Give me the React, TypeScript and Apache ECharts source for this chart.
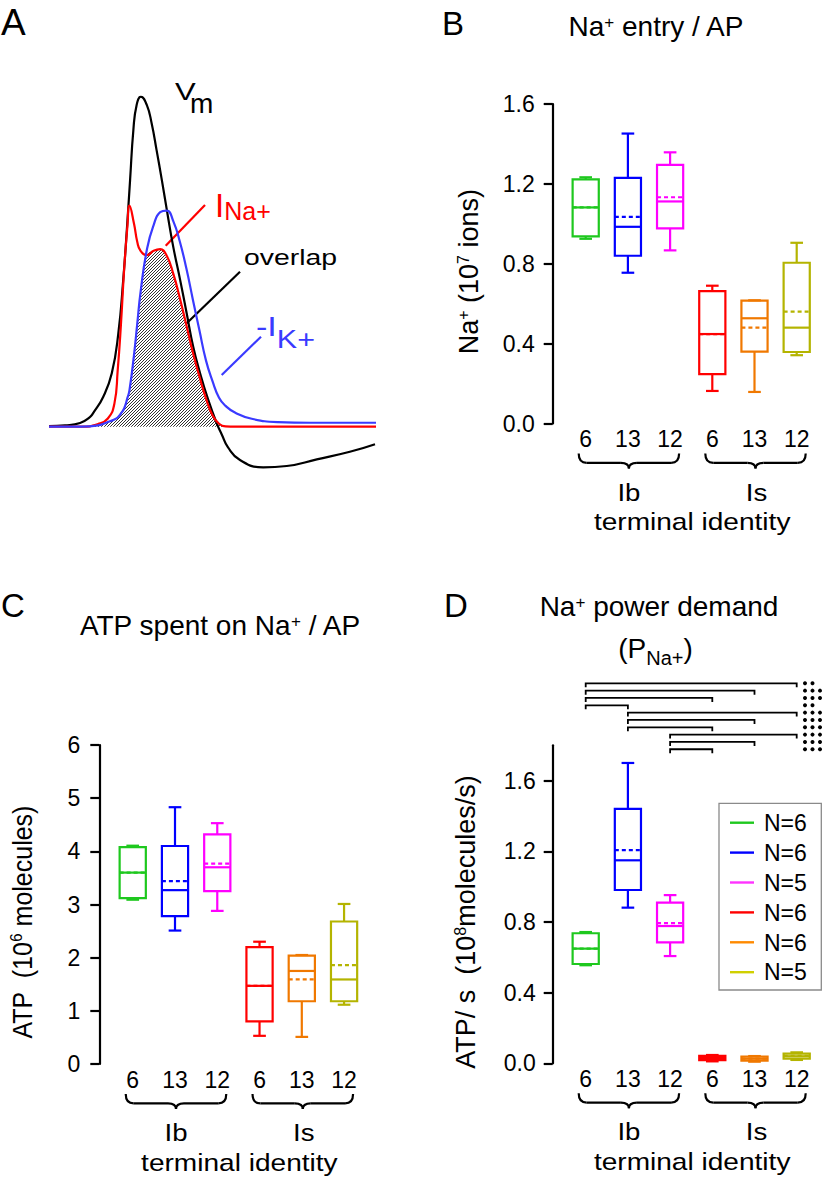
import React, { useEffect, useRef } from 'react';
import * as echarts from 'echarts';

const FONT = '"Liberation Sans", Arial, Helvetica, sans-serif';

// ---------- Panel A traces (time 0-100 a.u., amplitude a.u. with Vm peak = 100) ----------
const vmTime = [0, 4.9, 9.5, 12.5, 13.5, 16.6, 19.2, 21.2, 22.7, 23.8, 24.8, 25.8, 26.8, 28.1, 29.9, 31.4, 32.9, 34.5, 36.2, 38.0, 40.1, 42.1, 44.1, 46.2, 48.7, 51.3, 52.9, 54.7, 58.4, 65.5, 72.7, 81.9, 92.0, 99.7];
const vmTrace = [0.2, 0.4, 1.1, 2.9, 4.1, 9.1, 16.2, 28.3, 44.5, 59.6, 74.8, 89.9, 97.5, 100, 97.5, 91.9, 83.8, 74.8, 64.7, 54.5, 44.5, 34.4, 24.2, 16.2, 8.1, 1.0, -2.5, -6.2, -10.1, -12.3, -11.9, -9.9, -7.6, -5.3];
const currentTime = [0, 10, 15, 18, 20, 21, 22, 23, 24, 24.6, 26, 27, 28, 30, 32, 34, 36, 38, 40, 42, 44, 46, 48, 50, 52, 54, 57, 62, 70, 80, 100];
const iNaTrace = [0, 0, 0.8, 2.5, 7, 17, 31, 48, 61, 67, 61.5, 56, 53.3, 52, 53.3, 53.8, 51.8, 46.4, 39, 30.8, 22.5, 15.2, 8.6, 3.5, 0.9, 0.1, 0, 0, 0, 0, 0];
const iKTrace = [0, 0, 0.4, 1.4, 2.2, 2.8, 4, 5.6, 8.8, 11, 21.8, 31.3, 40.8, 54, 61.1, 65, 65.5, 62.3, 56.1, 48, 38.5, 29.2, 20.1, 13.8, 8.8, 6.3, 4.2, 2.4, 1.4, 1.2, 1.2];

// ---------- Box plots ----------
const categories = ['6', '13', '12', '6', '13', '12'];
const groupColors = ['#1ec81e', '#0000ff', '#ff00ff', '#ff0000', '#f07800', '#b4b400'];
// [min, q1, median, q3, max, mean]
const naEntry = [
  [0.925, 0.937, 1.082, 1.223, 1.233, 1.082],
  [0.755, 0.84, 0.985, 1.23, 1.452, 1.035],
  [0.867, 0.977, 1.112, 1.295, 1.358, 1.133],
  [0.163, 0.247, 0.448, 0.663, 0.69, 0.448],
  [0.158, 0.36, 0.527, 0.615, 0.617, 0.48],
  [0.342, 0.358, 0.48, 0.805, 0.905, 0.56],
];
const atpPerAP = [
  [3.09, 3.12, 3.6, 4.08, 4.106, 3.6],
  [2.51, 2.78, 3.27, 4.1, 4.83, 3.44],
  [2.88, 3.25, 3.7, 4.32, 4.53, 3.77],
  [0.53, 0.8, 1.47, 2.2, 2.3, 1.47],
  [0.51, 1.18, 1.75, 2.04, 2.05, 1.59],
  [1.115, 1.18, 1.59, 2.68, 3.01, 1.86],
];
const powerDemand = [
  [0.555, 0.562, 0.649, 0.736, 0.743, 0.649],
  [0.881, 0.981, 1.149, 1.44, 1.7, 1.207],
  [0.607, 0.685, 0.777, 0.909, 0.952, 0.794],
  [0.011, 0.018, 0.03, 0.042, 0.047, 0.03],
  [0.009, 0.015, 0.026, 0.038, 0.041, 0.026],
  [0.019, 0.026, 0.04, 0.055, 0.062, 0.042],
];
const legendN = [6, 6, 5, 6, 6, 5];
const legendColors = ['#1ec81e', '#0000ff', '#ff33ff', '#ff0000', '#ff8a00', '#d0d000'];
// significance comparisons in D: [group a, group b, number of dots]
const sigPairs = [
  [0, 5, 2], [0, 4, 3], [0, 3, 3], [0, 1, 2],
  [1, 5, 3], [1, 4, 3], [1, 3, 3],
  [2, 5, 3], [2, 4, 3], [2, 3, 3],
];
const powerTicks = [0, 0.4, 0.8, 1.2, 1.6];

type Part = { t: string; s: number; dy?: number };

export default function App() {
  const ref = useRef<HTMLDivElement>(null);
  useEffect(() => {
    const el = ref.current!;
    const chart = echarts.init(el, null, { renderer: 'svg' });

    const mctx = document.createElement('canvas').getContext('2d')!;
    const tw = (t: string, s: number) => {
      mctx.font = `${s}px ${FONT}`;
      return mctx.measureText(t).width;
    };
    const label = (
      parts: Part[], x: number, baseline: number,
      o: { align?: string; color?: string; scaleX?: number; scaleY?: number; rotation?: number } = {}
    ) => {
      const w = parts.reduce((a, p) => a + tw(p.t, p.s), 0);
      let px = o.align === 'center' ? -w / 2 : o.align === 'right' ? -w : 0;
      const children = parts.map((p) => {
        const e = {
          type: 'text', x: px, y: (p.dy || 0) - 0.3465 * p.s,
          style: { text: p.t, fontSize: p.s, fontFamily: FONT, fill: o.color || '#000', align: 'left', verticalAlign: 'middle' },
        };
        px += tw(p.t, p.s);
        return e;
      });
      return { type: 'group', x, y: baseline, rotation: o.rotation || 0, scaleX: o.scaleX || 1, scaleY: o.scaleY || 1, children };
    };

    // hatch pattern
    const hc = document.createElement('canvas');
    hc.width = 3; hc.height = 3;
    const hg = hc.getContext('2d')!;
    hg.strokeStyle = '#1a1a1a'; hg.lineWidth = 0.9;
    hg.beginPath();
    hg.moveTo(0, 3); hg.lineTo(3, 0);
    hg.moveTo(-1, 1); hg.lineTo(1, -1);
    hg.moveTo(2, 4); hg.lineTo(4, 2);
    hg.stroke();

    const overlap = currentTime.map((t, i) => [t, Math.min(iNaTrace[i], iKTrace[i])]);

    const boxRender = (params: any, api: any) => {
      const i = api.value(0);
      const c = groupColors[i];
      const p = (k: number) => api.coord([i, api.value(k)]);
      const [x, yMin] = p(1);
      const yQ1 = p(2)[1], yMed = p(3)[1], yQ3 = p(4)[1], yMax = p(5)[1], yMean = p(6)[1];
      const band = api.size([1, 0])[0];
      const hw = band * 0.31, cap = band * 0.15;
      const st = { stroke: c, lineWidth: 2.2, fill: 'none' };
      return {
        type: 'group',
        children: [
          { type: 'line', shape: { x1: x, y1: yMax, x2: x, y2: yQ3 }, style: st },
          { type: 'line', shape: { x1: x, y1: yQ1, x2: x, y2: yMin }, style: st },
          { type: 'line', shape: { x1: x - cap, y1: yMax, x2: x + cap, y2: yMax }, style: st },
          { type: 'line', shape: { x1: x - cap, y1: yMin, x2: x + cap, y2: yMin }, style: st },
          { type: 'rect', shape: { x: x - hw, y: yQ3, width: 2 * hw, height: yQ1 - yQ3 }, style: st },
          { type: 'line', shape: { x1: x - hw, y1: yMed, x2: x + hw, y2: yMed }, style: st },
          { type: 'line', shape: { x1: x - hw, y1: yMean, x2: x + hw, y2: yMean }, style: { ...st, lineDash: [4, 3] } },
        ],
      };
    };
    const boxSeries = (idx: number, stats: number[][]) => ({
      type: 'custom', xAxisIndex: idx, yAxisIndex: idx,
      renderItem: boxRender,
      encode: { x: 0, y: [1, 2, 3, 4, 5, 6] },
      data: stats.map((s, i) => [i, ...s]),
      clip: false,
    });

    const catAxis = (gi: number) => ({
      type: 'category', gridIndex: gi, data: categories,
      axisLine: { show: false }, axisTick: { show: false }, splitLine: { show: false },
      axisLabel: { color: '#000', fontSize: 23, fontFamily: FONT, margin: 4, interval: 0 },
    });
    const valAxis = (gi: number, extra: any) => ({
      type: 'value', gridIndex: gi,
      axisLine: { show: true, lineStyle: { color: '#000', width: 2.2 } },
      axisTick: { show: true, length: 9, lineStyle: { color: '#000', width: 2.2 } },
      splitLine: { show: false },
      ...extra,
      axisLabel: { color: '#000', fontSize: 23, fontFamily: FONT, padding: [5, 0, 0, 0], ...(extra.axisLabel || {}) },
    });

    const option: any = {
      animation: false,
      backgroundColor: '#fff',
      textStyle: { fontFamily: FONT },
      grid: [
        { left: 49, top: 96.7, width: 327, height: 379.5, outerBoundsMode: 'none' },
        { left: 564.6, top: 104, width: 253.2, height: 319.5, outerBoundsMode: 'none' },
        { left: 111.6, top: 745, width: 253.6, height: 319, outerBoundsMode: 'none' },
        { left: 564.6, top: 745.3, width: 253.2, height: 318, outerBoundsMode: 'none' },
      ],
      xAxis: [
        { type: 'value', gridIndex: 0, min: 0, max: 100, show: false },
        catAxis(1), catAxis(2), catAxis(3),
      ],
      yAxis: [
        { type: 'value', gridIndex: 0, min: -15, max: 100, show: false },
        valAxis(1, { min: 0, max: 1.6, interval: 0.4, offset: 11.9, axisLabel: { margin: 18, formatter: (v: number) => v.toFixed(1) } }),
        valAxis(2, { min: 0, max: 6, interval: 1, offset: 12.3, axisLabel: { margin: 19 } }),
        valAxis(3, {
          min: 0, max: 1.8, offset: 11.9,
          axisTick: { show: true, length: 9, lineStyle: { color: '#000', width: 2.2 }, customValues: powerTicks },
          axisLabel: { margin: 17, customValues: powerTicks, formatter: (v: number) => v.toFixed(1) },
        }),
      ],
      series: [
        {
          name: 'overlap', type: 'line', xAxisIndex: 0, yAxisIndex: 0, data: overlap, smooth: true,
          symbol: 'none', lineStyle: { width: 0, opacity: 0 },
          areaStyle: { color: { image: hc, repeat: 'repeat' }, opacity: 1 }, z: 1,
        },
        {
          name: 'Vm', type: 'line', xAxisIndex: 0, yAxisIndex: 0, smooth: true, symbol: 'none',
          data: vmTime.map((t, i) => [t, vmTrace[i]]), lineStyle: { color: '#000', width: 2.2 }, z: 2,
        },
        {
          name: 'INa', type: 'line', xAxisIndex: 0, yAxisIndex: 0, smooth: true, symbol: 'none',
          data: currentTime.map((t, i) => [t, iNaTrace[i]]), lineStyle: { color: '#ff0000', width: 2.2 }, z: 3,
        },
        {
          name: 'IK', type: 'line', xAxisIndex: 0, yAxisIndex: 0, smooth: true, symbol: 'none',
          data: currentTime.map((t, i) => [t, iKTrace[i]]), lineStyle: { color: '#3a3aff', width: 2.2 }, z: 3,
        },
        boxSeries(1, naEntry),
        boxSeries(2, atpPerAP),
        boxSeries(3, powerDemand),
      ],
    };
    chart.setOption(option);

    const cxp = (axis: number, i: number) => chart.convertToPixel({ xAxisIndex: axis } as any, i) as unknown as number;
    const cyp = (axis: number, v: number) => chart.convertToPixel({ yAxisIndex: axis } as any, v) as unknown as number;

    const g: any[] = [];
    const blk = { stroke: '#000', lineWidth: 2.2, fill: 'none' };

    const brace = (x0: number, x1: number, yT: number) => {
      const yM = yT + 9.4, yB = yT + 15, r = 8, xm = (x0 + x1) / 2;
      const bz = (x1_: number, y1_: number, x2_: number, y2_: number, c1x: number, c1y: number, c2x: number, c2y: number) => ({
        type: 'bezierCurve', shape: { x1: x1_, y1: y1_, x2: x2_, y2: y2_, cpx1: c1x, cpy1: c1y, cpx2: c2x, cpy2: c2y }, style: blk,
      });
      g.push(bz(x0, yT, x0 + r, yM, x0, yT + 0.75 * (yM - yT), x0 + 0.35 * r, yM));
      g.push({ type: 'line', shape: { x1: x0 + r, y1: yM, x2: xm - r, y2: yM }, style: blk });
      g.push(bz(xm - r, yM, xm, yB, xm - 0.4 * r, yM, xm, yM + 0.3 * (yB - yM)));
      g.push(bz(xm, yB, xm + r, yM, xm, yM + 0.3 * (yB - yM), xm + 0.4 * r, yM));
      g.push({ type: 'line', shape: { x1: xm + r, y1: yM, x2: x1 - r, y2: yM }, style: blk });
      g.push(bz(x1 - r, yM, x1, yT, x1 - 0.35 * r, yM, x1, yT + 0.75 * (yM - yT)));
    };

    for (const ax of [1, 2, 3]) {
      const bottom = cyp(ax, 0);
      const l0 = cxp(ax, 0) - 7, l1 = cxp(ax, 2) + 9, r0 = cxp(ax, 3) - 7, r1 = cxp(ax, 5) + 9;
      brace(l0, l1, bottom + 30);
      brace(r0, r1, bottom + 30);
      g.push(label([{ t: 'Ib', s: 24 }], (l0 + l1) / 2, bottom + 77, { align: 'center', scaleX: 1.15 }));
      g.push(label([{ t: 'Is', s: 24 }], (r0 + r1) / 2 + 1, bottom + 77, { align: 'center', scaleX: 1.15 }));
      g.push(label([{ t: 'terminal identity', s: 24 }], (l0 + r1) / 2, bottom + 107, { align: 'center', scaleX: 1.17 }));
    }

    // Panel letters
    g.push(label([{ t: 'A', s: 37 }], 1, 35));
    g.push(label([{ t: 'B', s: 33 }], 442, 35));
    g.push(label([{ t: 'C', s: 33 }], 1, 617));
    g.push(label([{ t: 'D', s: 33 }], 444, 617));

    // Titles
    g.push(label([{ t: 'Na', s: 28 }, { t: '+', s: 17, dy: -8 }, { t: ' entry / AP', s: 28 }], 656.7, 36.7, { align: 'center' }));
    g.push(label([{ t: 'ATP spent on Na', s: 28 }, { t: '+', s: 17, dy: -8 }, { t: ' / AP', s: 28 }], 220.8, 635, { align: 'center' }));
    g.push(label([{ t: 'Na', s: 28 }, { t: '+', s: 17, dy: -8 }, { t: ' power demand', s: 28 }], 659, 616.7, { align: 'center' }));
    g.push(label([{ t: '(P', s: 28 }, { t: 'Na+', s: 20, dy: 7 }, { t: ')', s: 28 }], 655.5, 658, { align: 'center' }));

    // Y-axis titles
    const rot = Math.PI / 2;
    g.push(label([{ t: 'Na', s: 27 }, { t: '+', s: 16, dy: -9 }, { t: ' (10', s: 27 }, { t: '7', s: 16, dy: -9 }, { t: ' ions)', s: 27 }], 478.3, 271.7, { align: 'center', rotation: rot, scaleY: 1.03 }));
    g.push(label([{ t: 'ATP  (10', s: 25 }, { t: '6', s: 15, dy: -9 }, { t: ' molecules)', s: 25 }], 31.7, 922, { align: 'center', rotation: rot, scaleY: 1.1 }));
    g.push(label([{ t: 'ATP/ s  (10', s: 27 }, { t: '8', s: 16, dy: -9 }, { t: 'molecules/s)', s: 27 }], 475, 922, { align: 'center', rotation: rot }));

    // Panel A annotations
    g.push(label([{ t: 'V', s: 23 }], 175, 100, { scaleX: 1.35 }));
    g.push(label([{ t: 'm', s: 28 }], 190, 113));
    g.push(label([{ t: 'I', s: 33 }, { t: 'Na+', s: 25, dy: 3.3 }], 215, 216.7, { color: '#ff0000' }));
    g.push(label([{ t: 'overlap', s: 22 }], 244, 265, { scaleX: 1.29 }));
    g.push(label([{ t: '-I', s: 28 }, { t: 'K+', s: 25, dy: 11.6 }], 256, 336.7, { color: '#3a3aff', scaleX: 1.22 }));
    g.push({ type: 'line', shape: { x1: 205, y1: 205, x2: 165.7, y2: 245.7 }, style: { stroke: '#ff0000', lineWidth: 2.2 } });
    g.push({ type: 'line', shape: { x1: 240, y1: 271.7, x2: 186.7, y2: 323.3 }, style: { stroke: '#000', lineWidth: 2.2 } });
    g.push({ type: 'line', shape: { x1: 261, y1: 336.7, x2: 221.7, y2: 375 }, style: { stroke: '#3a3aff', lineWidth: 2.2 } });

    // Significance brackets (panel D)
    sigPairs.forEach(([a, b, n], k) => {
      const y = 683.3 + k * 7.33;
      const xa = cxp(3, a), xb = cxp(3, b);
      g.push({ type: 'polyline', shape: { points: [[xa, y + 4], [xa, y], [xb, y], [xb, y + 4]] }, style: { stroke: '#000', lineWidth: 1.8, fill: 'none' } });
      for (let d = 0; d < n; d++) {
        g.push({ type: 'circle', shape: { cx: 805 + d * 7.5, cy: y, r: 2 }, style: { fill: '#000' } });
      }
    });

    // Legend (panel D)
    g.push({ type: 'rect', shape: { x: 719, y: 803.3, width: 102.3, height: 186.7 }, style: { fill: '#fff', stroke: '#8a8a8a', lineWidth: 1.3 } });
    legendN.forEach((n, i) => {
      const y = 822.7 + i * 29.9;
      g.push({ type: 'line', shape: { x1: 730, y1: y, x2: 754, y2: y }, style: { stroke: legendColors[i], lineWidth: 2.4 } });
      g.push(label([{ t: `N=${n}`, s: 23 }], 764, y + 8.2));
    });

    chart.setOption({ graphic: { elements: g } });
    return () => chart.dispose();
  }, []);
  return <div ref={ref} style={{ position: 'absolute', left: 0, top: 0, width: 826, height: 1182, background: '#fff' }} />;
}
